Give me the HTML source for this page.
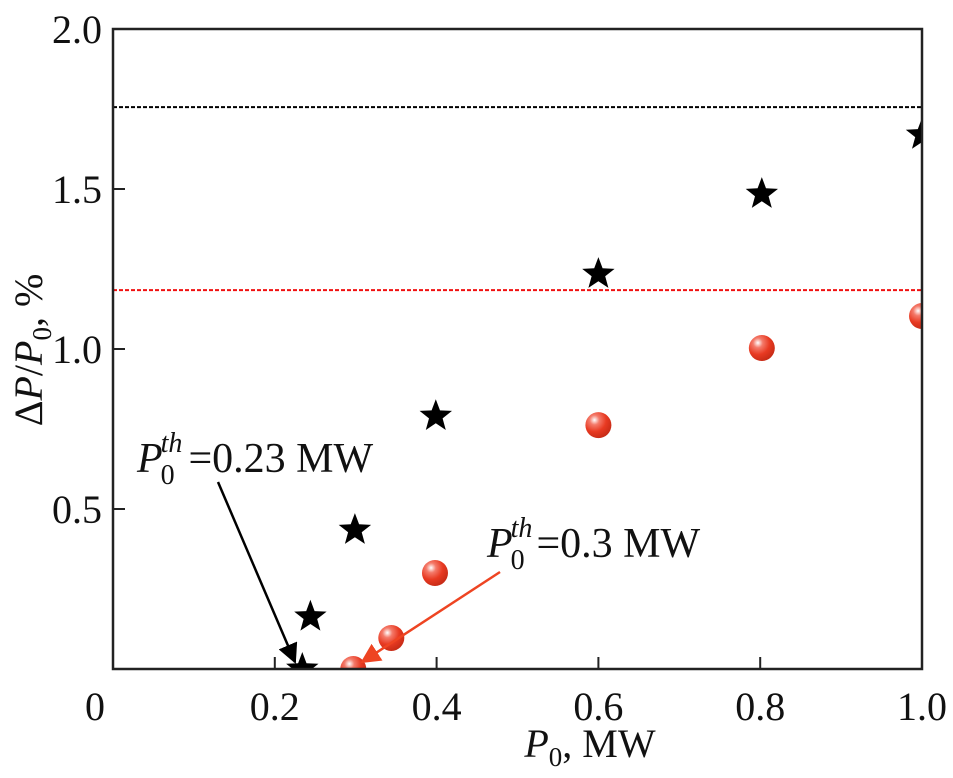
<!DOCTYPE html>
<html><head><meta charset="utf-8">
<style>
html,body{margin:0;padding:0;background:#fff;}
svg{display:block;font-family:"Liberation Serif",serif;}
</style></head>
<body>
<svg id="chart" width="953" height="778" viewBox="0 0 953 778" xmlns="http://www.w3.org/2000/svg">
<defs>
<radialGradient id="ballGrad" cx="0.35" cy="0.3" r="0.75">
<stop offset="0" stop-color="#fff"/>
<stop offset="0.25" stop-color="#f47a6a"/>
<stop offset="0.6" stop-color="#e83a22"/>
<stop offset="1" stop-color="#c42a15"/>
</radialGradient>
<clipPath id="plotClip"><rect x="113" y="29" width="809" height="640"/></clipPath>
<marker id="arrBlack" viewBox="0 0 10 10" refX="9" refY="5" markerWidth="8" markerHeight="8" orient="auto"><path d="M0,0 L10,5 L0,10 z" fill="#000"/></marker>
<marker id="arrRed" viewBox="0 0 10 10" refX="9" refY="5" markerWidth="8" markerHeight="8" orient="auto"><path d="M0,0 L10,5 L0,10 z" fill="#ee4422"/></marker>
</defs>
<g id="ticks"></g>
<g id="refs" clip-path="url(#plotClip)"></g>
<g id="marks" clip-path="url(#plotClip)"></g>
<rect x="113" y="29" width="809" height="640" fill="none" stroke="#222" stroke-width="2.5"/>
<line x1="218" y1="482" x2="295" y2="662" stroke="#000" stroke-width="2.5" marker-end="url(#arrBlack)"/>
<line x1="500" y1="572" x2="362" y2="662" stroke="#ee4422" stroke-width="2.5" marker-end="url(#arrRed)"/>
<text x="137" y="472" font-size="42" fill="#111"><tspan font-style="italic">P</tspan><tspan font-size="28" dx="-2" dy="12">0</tspan><tspan font-size="28" font-style="italic" dx="-14" dy="-32">th</tspan><tspan dx="6" dy="20">=0.23 MW</tspan></text>
<text x="487" y="557" font-size="42" fill="#111"><tspan font-style="italic">P</tspan><tspan font-size="28" dx="-2" dy="12">0</tspan><tspan font-size="28" font-style="italic" dx="-14" dy="-32">th</tspan><tspan dx="4" dy="20">=0.3 MW</tspan></text>
<text x="590" y="757" font-size="40" text-anchor="middle" fill="#111"><tspan font-style="italic">P</tspan><tspan font-size="27" dy="9">0</tspan><tspan dy="-9">, MW</tspan></text>
<text transform="translate(42,350) rotate(-90)" font-size="40" text-anchor="middle" fill="#111">Δ<tspan font-style="italic">P</tspan>/<tspan font-style="italic">P</tspan><tspan font-size="27" dy="9">0</tspan><tspan dy="-9">, %</tspan></text>
</svg>
<script>
const xTicks = [0, 0.2, 0.4, 0.6, 0.8, 1.0];
const xTickLabels = ["0", "0.2", "0.4", "0.6", "0.8", "1.0"];
const yTicks = [0.5, 1.0, 1.5, 2.0];
const yTickLabels = ["0.5", "1.0", "1.5", "2.0"];
const starX = [0.234, 0.244, 0.299, 0.399, 0.6, 0.802, 1.0];
const starY = [0, 0.163, 0.434, 0.79, 1.234, 1.484, 1.669];
const ballX = [0.297, 0.344, 0.398, 0.6, 0.802, 1.0];
const ballY = [0, 0.097, 0.3, 0.762, 1.003, 1.103];
const refBlackY = 1.756;
const refRedY = 1.184;

const NS = "http://www.w3.org/2000/svg";
const X0 = 113, X1 = 922, Y0 = 669, Y1 = 29;
function sx(v){ return X0 + v * (X1 - X0) / 1.0; }
function sy(v){ return Y0 - v * (Y0 - Y1) / 2.0; }
function mk(tag, attrs, parent){ const e = document.createElementNS(NS, tag); for (const k in attrs) e.setAttribute(k, attrs[k]); parent.appendChild(e); return e; }

const ticks = document.getElementById('ticks');
xTicks.forEach((v, i) => {
  if (v > 0 && v < 1) {
    const t = mk('line', {x1: sx(v), y1: Y0, x2: sx(v), y2: Y0 - 12, stroke: '#222', 'stroke-width': 2}, ticks);
    
    
  }
  const lab = mk('text', {x: i === 0 ? sx(v) - 18 : sx(v), y: 720, 'font-size': 40, 'text-anchor': 'middle', fill: '#111'}, ticks);
  lab.textContent = xTickLabels[i];
  
  
});
yTicks.forEach((v, i) => {
  if (v < 2) {
    const t = mk('line', {x1: X0, y1: sy(v), x2: X0 + 12, y2: sy(v), stroke: '#222', 'stroke-width': 2}, ticks);
    
    
  }
  const lab = mk('text', {x: 102, y: sy(v) + 14, 'font-size': 40, 'text-anchor': 'end', fill: '#111'}, ticks);
  lab.textContent = yTickLabels[i];
  
  
});

const refs = document.getElementById('refs');
const rb = mk('line', {x1: X0, x2: X1, y1: sy(refBlackY), y2: sy(refBlackY), stroke: '#000', 'stroke-width': 2, 'stroke-dasharray': '4,2'}, refs);


const rr = mk('line', {x1: X0, x2: X1, y1: sy(refRedY), y2: sy(refRedY), stroke: '#f01010', 'stroke-width': 2, 'stroke-dasharray': '4,2'}, refs);



const marks = document.getElementById('marks');
function starPath(cx, cy, R){
  const r = R * 0.42; let d = '';
  for (let k = 0; k < 10; k++) {
    const a = -Math.PI/2 + k * Math.PI/5;
    const rad = k % 2 === 0 ? R : r;
    d += (k === 0 ? 'M' : 'L') + (cx + rad*Math.cos(a)).toFixed(1) + ',' + (cy + rad*Math.sin(a)).toFixed(1);
  }
  return d + 'Z';
}
starX.forEach((v, i) => {
  const s = mk('path', {d: starPath(sx(v), sy(starY[i]), 17), fill: '#000'}, marks);
  
  
});
ballX.forEach((v, i) => {
  const c = mk('circle', {cx: sx(v), cy: sy(ballY[i]), r: 13, fill: 'url(#ballGrad)'}, marks);
  
  
});
</script>
</body></html>
